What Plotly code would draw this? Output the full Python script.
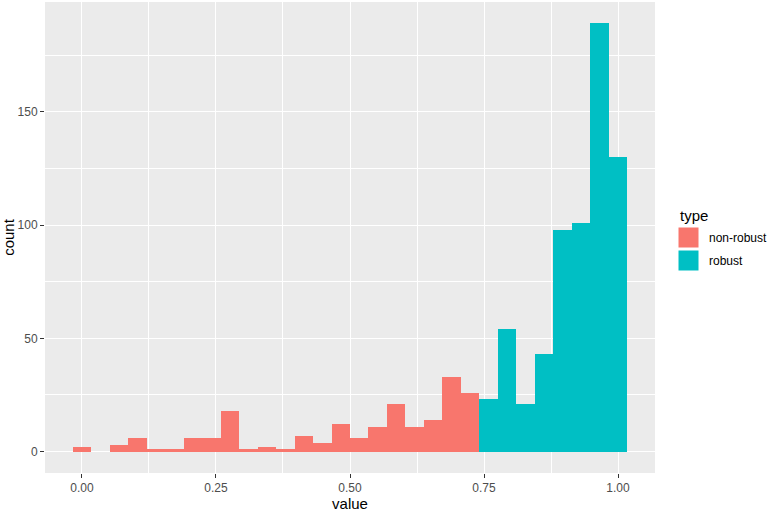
import plotly.graph_objects as go

# Histogram: 30 bins centred on k/29 for k = 0..29 (bin width 1/29)
n_bins = 30
bin_width = 1 / 29
centers = [k * bin_width for k in range(n_bins)]

nonrobust_counts = [2, 0, 3, 6, 1, 1, 6, 6, 18, 1, 2, 1, 7, 4, 12, 6, 11, 21, 11, 14, 33, 26,
                    0, 0, 0, 0, 0, 0, 0, 0]
robust_counts = [0] * 22 + [23, 54, 21, 43, 98, 101, 189, 130]

types = ["non-robust", "robust"]
colors = ["#F8766D", "#00BFC4"]

x_ticks = [0.0, 0.25, 0.5, 0.75, 1.0]
x_tick_labels = ["0.00", "0.25", "0.50", "0.75", "1.00"]
y_ticks = [0, 50, 100, 150]

fig = go.Figure()
for name, counts, col in zip(types[::-1], [robust_counts, nonrobust_counts], colors[::-1]):
    fig.add_trace(go.Bar(
        x=centers, y=counts, width=bin_width, name=name,
        marker=dict(color=col, line=dict(width=0)),
        showlegend=False,
    ))

x_lo = -bin_width / 2
x_hi = 1 + bin_width / 2
xr = x_hi - x_lo
ymax = max(a + b for a, b in zip(nonrobust_counts, robust_counts))

tick_font = dict(family="Liberation Sans, Arial, sans-serif", size=12, color="#4D4D4D")
title_font = dict(family="Liberation Sans, Arial, sans-serif", size=15, color="black")

fig.update_layout(
    barmode="stack",
    bargap=0,
    width=768, height=513,
    margin=dict(l=45, r=113, t=2, b=40),
    paper_bgcolor="white",
    plot_bgcolor="#EBEBEB",
    xaxis=dict(
        range=[x_lo - 0.05 * xr, x_hi + 0.05 * xr],
        tickvals=x_ticks, ticktext=x_tick_labels,
        showgrid=True, gridcolor="white", gridwidth=1.2,
        minor=dict(dtick=0.125, tick0=0.125, showgrid=True, gridcolor="white", gridwidth=0.5,
                   ticks=""),
        ticks="outside", ticklen=4, tickcolor="#333333", tickwidth=1,
        tickfont=tick_font, zeroline=False, showline=False,
        title=dict(text="value", font=title_font, standoff=0),
    ),
    yaxis=dict(
        range=[-0.05 * ymax, ymax * 1.05],
        tickvals=y_ticks,
        showgrid=True, gridcolor="white", gridwidth=1.2,
        minor=dict(dtick=25, tick0=25, showgrid=True, gridcolor="white", gridwidth=0.5,
                   ticks=""),
        ticks="outside", ticklen=4, tickcolor="#333333", tickwidth=1,
        tickfont=tick_font, zeroline=False, showline=False,
        title=dict(text="count", font=title_font, standoff=4),
    ),
)

# ggplot-style legend drawn with shapes and text
fig.add_annotation(xref="paper", yref="paper", x=1.038, y=(473 - 215) / 471,
                   text="type", showarrow=False, xanchor="left", yanchor="middle",
                   font=dict(family="Liberation Sans, Arial, sans-serif", size=15, color="black"))
key_tops = [227, 250]
for name, col, top in zip(types, colors, key_tops):
    y0 = (473 - top) / 471
    y1 = (473 - (top + 21)) / 471
    fig.add_shape(type="rect", xref="paper", yref="paper",
                  x0=(678 - 45) / 610, x1=(699 - 45) / 610, y0=y1, y1=y0,
                  fillcolor=col, line=dict(color="white", width=1))
    fig.add_annotation(xref="paper", yref="paper", x=(707 - 45) / 610, y=(y0 + y1) / 2,
                       text=name, showarrow=False, xanchor="left", yanchor="middle",
                       font=dict(family="Liberation Sans, Arial, sans-serif", size=12, color="black"))

fig.write_html("out.html", config={"displayModeBar": False},
               post_script="document.body.style.margin='0px';")
